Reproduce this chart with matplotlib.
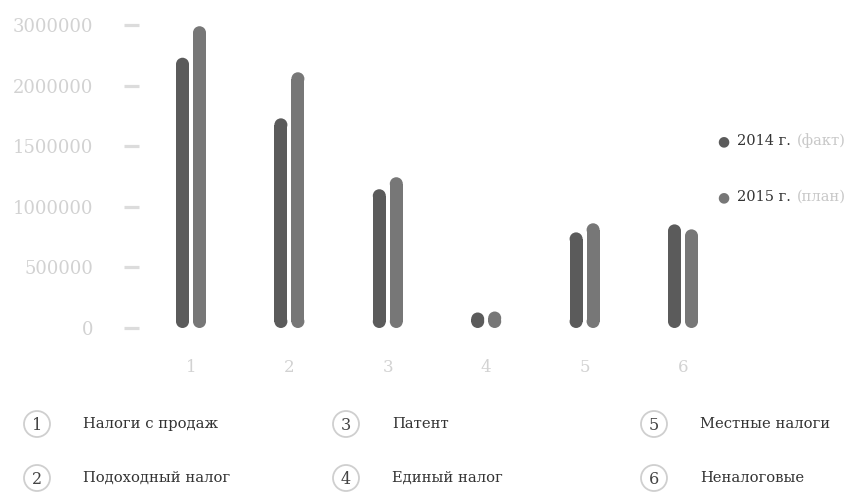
import matplotlib
matplotlib.use("Agg")
import matplotlib.pyplot as plt
from matplotlib.patches import Rectangle, Ellipse, Circle
import numpy as np

# data
categories = [1, 2, 3, 4, 5, 6]
fact_2014 = [2230000, 1730000, 1145000, 128000, 789000, 855000]
plan_2015 = [2490000, 2110000, 1244000, 136000, 864000, 814000]
ytick_pos = [0, 500000, 1000000, 1500000, 2000000, 2500000]
ytick_labels = ["0", "500000", "1000000", "1500000", "2000000", "3000000"]
series_names = ["2014 г.", "2015 г."]
series_notes = ["(факт)", "(план)"]
tax_names = ["Налоги с продаж", "Подоходный налог", "Патент",
             "Единый налог", "Местные налоги", "Неналоговые"]

c_fact = "#5b5b5b"
c_plan = "#777777"
light = "#d2d2d2"
serif = ["DejaVu Serif"]

W, H = 8.48, 4.92
fig = plt.figure(figsize=(W, H), dpi=100)
ax_l, ax_b, ax_w, ax_h = 139/848, 164/492, 561/848, 303/492
ax = fig.add_axes([ax_l, ax_b, ax_w, ax_h])
xlim = (1 - 52/98.4, 6 + 17/98.4)
ylim = (0, 2500000)
ax.set_xlim(xlim)
ax.set_ylim(ylim)

# pixel sizes in data units, for round bar ends
x_per_px = (xlim[1] - xlim[0]) / (ax_w * W * 100)
y_per_px = (ylim[1] - ylim[0]) / (ax_h * H * 100)

bw = 13 * x_per_px
ry = 6.5 * y_per_px
offs = [-8.5 * x_per_px, 8.5 * x_per_px]
for vals, col, off in [(fact_2014, c_fact, offs[0]), (plan_2015, c_plan, offs[1])]:
    for x, v in zip(categories, vals):
        xc = x + off
        ax.add_patch(Rectangle((xc - bw/2, ry), bw, v - 2*ry, fc=col, ec="none", lw=0))
        ax.add_patch(Ellipse((xc, ry), bw, 2*ry, fc=col, ec="none", lw=0, clip_on=False))
        ax.add_patch(Ellipse((xc, v - ry), bw, 2*ry, fc=col, ec="none", lw=0, clip_on=False))

for s in ax.spines.values():
    s.set_visible(False)
ax.set_yticks(ytick_pos)
ax.set_yticklabels(ytick_labels, family=serif, fontsize=13, color=light)
ax.tick_params(axis="y", length=11, width=2.3, color="#dcdcdc", pad=22)
ax.set_xticks(categories)
ax.set_xticklabels([str(c) for c in categories], family=serif, fontsize=12, color=light)
ax.tick_params(axis="x", length=0, pad=22)

# series legend
for i, (nm, note, col) in enumerate(zip(series_names, series_notes, [c_fact, c_plan])):
    y = 1 - (141 + 56*i) / 492
    fig.text(723/848, y, "●", color=col, fontsize=10, ha="center", va="center", family=["DejaVu Sans"])
    fig.text(737/848, y, nm, color="#333333", fontsize=10.5, ha="left", va="center", family=serif)
    fig.text(797/848, y, note, color="#c8c8c8", fontsize=10.5, ha="left", va="center", family=serif)

# category legend
col_x = [37, 346, 654]
row_y = [424, 478]
for k, name in enumerate(tax_names):
    cx = col_x[k // 2]
    cy = row_y[k % 2]
    xf, yf = cx/848, 1 - cy/492
    circ = Circle((cx, 492 - cy), 13, transform=None, fill=False, ec="#cfcfcf", lw=1.3)
    fig.patches.append(circ)
    fig.text(xf, yf - 2/492, str(k + 1), ha="center", va="center", fontsize=11.5,
             color="#444444", family=serif)
    fig.text((cx + 46)/848, yf, name, ha="left", va="center", fontsize=10.6, color="#333333", family=serif)

fig.savefig("out.png", dpi=100)
